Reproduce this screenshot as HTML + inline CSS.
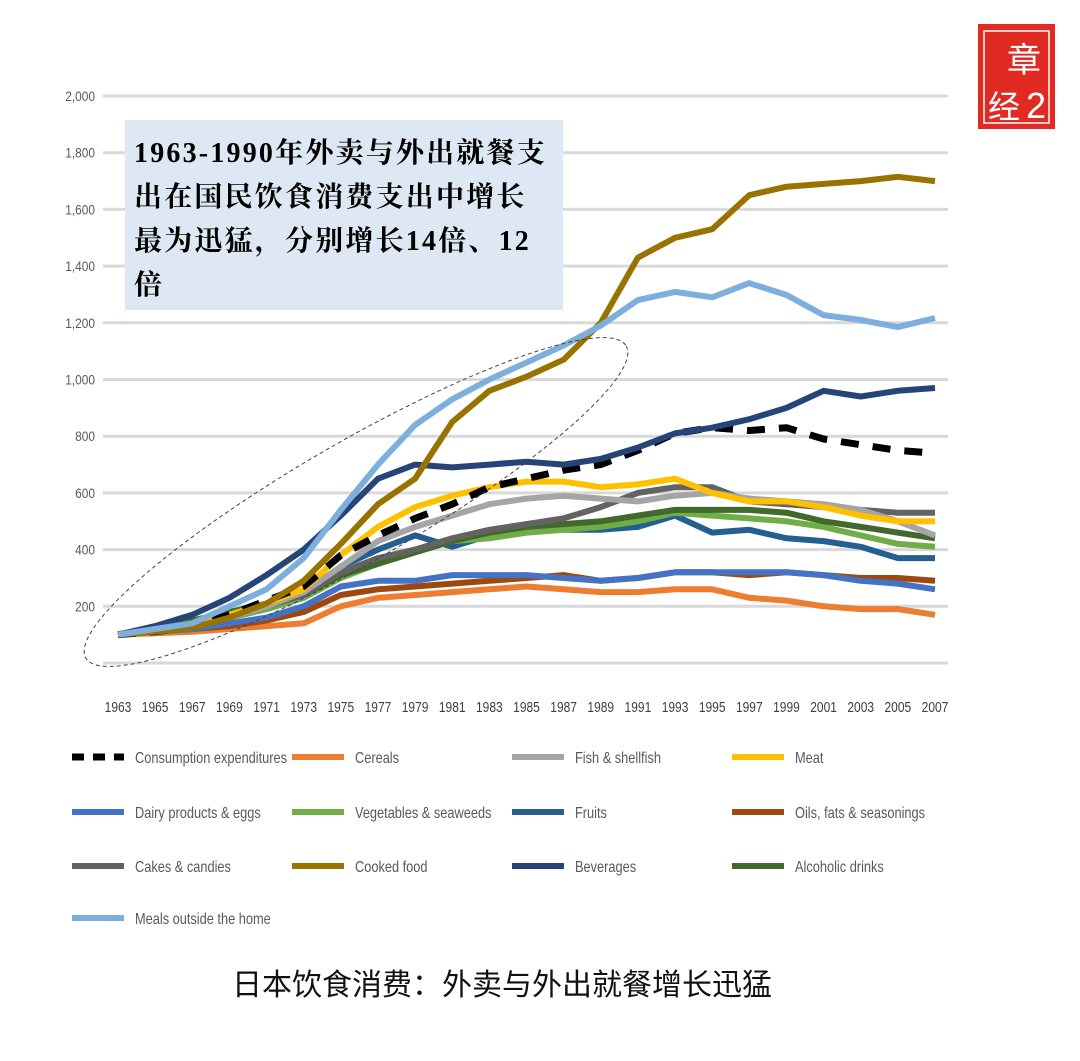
<!DOCTYPE html>
<html><head><meta charset="utf-8"><style>
body{margin:0;background:#fff;}
</style></head><body>
<svg id="c" width="1080" height="1056" viewBox="0 0 1080 1056" style="font-family:'Liberation Sans','Noto Sans CJK SC',sans-serif">
<g>
<rect x="978" y="24" width="77" height="105" fill="#e02a22"/>
<rect x="984" y="31" width="65" height="92" fill="none" stroke="#fff" stroke-width="1.5"/>
<text x="1024" y="72" font-size="34" fill="#fff" text-anchor="middle" style="font-family:'Noto Sans CJK SC',sans-serif">章</text>
<text x="1004" y="118" font-size="32" fill="#fff" text-anchor="middle" style="font-family:'Noto Sans CJK SC',sans-serif">经</text>
<text x="1036" y="118" font-size="36" fill="#fff" text-anchor="middle">2</text>
</g>
<g id="grid"></g><g id="series"></g><g id="axes"></g><g id="legend"></g>
<ellipse cx="356" cy="502" rx="312" ry="60" transform="rotate(-30 356 502)" fill="none" stroke="#444" stroke-width="1" stroke-dasharray="4 3"/>
<g>
<rect x="125" y="120" width="438" height="190" fill="#dde8f4"/>
<text style="font-family:'Liberation Serif','Noto Serif CJK SC',serif;font-weight:bold;font-size:28px;letter-spacing:2.2px" fill="#000">
<tspan x="134" y="162">1963-1990年外卖与外出就餐支</tspan>
<tspan x="134" y="206">出在国民饮食消费支出中增长</tspan>
<tspan x="134" y="250">最为迅猛，分别增长14倍、12</tspan>
<tspan x="134" y="294">倍</tspan></text>
</g>
<text x="502" y="995" font-size="30" text-anchor="middle" fill="#111" style="font-family:'Noto Sans CJK SC',sans-serif">日本饮食消费：外卖与外出就餐增长迅猛</text>
</svg>
<script>
const years=[1963,1965,1967,1969,1971,1973,1975,1977,1979,1981,1983,1985,1987,1989,1991,1993,1995,1997,1999,2001,2003,2005,2007];
const yTicks=[0,200,400,600,800,1000,1200,1400,1600,1800,2000];
const yTickLabels=["","200","400","600","800","1,000","1,200","1,400","1,600","1,800","2,000"];
const names=["Consumption expenditures","Cereals","Fish & shellfish","Meat","Dairy products & eggs","Vegetables & seaweeds","Fruits","Oils, fats & seasonings","Cakes & candies","Cooked food","Beverages","Alcoholic drinks","Meals outside the home"];
const colors=["#000","#ed7d31","#a5a5a5","#ffc000","#4472c4","#70ad47","#255e91","#9e480e","#636363","#997300","#264478","#43682b","#7cafdd"];
const consumption=[100,110,130,170,220,270,380,450,510,560,620,650,680,700,750,810,830,820,830,790,770,750,740];
const cereals=[100,105,110,120,130,140,200,230,240,250,260,270,260,250,250,260,260,230,220,200,190,190,170];
const fish=[100,110,130,160,200,250,340,430,480,520,560,580,590,580,570,590,600,580,570,560,540,500,450];
const meat=[100,110,130,170,210,260,380,480,550,590,620,640,640,620,630,650,600,570,570,550,520,500,500];
const dairy=[100,110,120,140,160,200,270,290,290,310,310,310,300,290,300,320,320,320,320,310,290,280,260];
const veg=[100,110,130,160,190,230,300,350,400,430,440,460,470,480,500,530,520,510,500,480,450,420,410];
const fruits=[100,110,130,160,190,230,340,400,450,410,450,480,470,470,480,520,460,470,440,430,410,370,370];
const oils=[100,110,120,130,150,180,240,260,270,280,290,300,310,290,300,320,320,310,320,310,300,300,290];
const cakes=[100,110,130,160,200,240,320,370,400,440,470,490,510,550,600,620,620,570,560,550,540,530,530];
const cooked=[100,110,125,160,210,290,420,560,650,850,960,1010,1070,1200,1430,1500,1530,1650,1680,1690,1700,1715,1700];
const beverages=[100,130,170,230,310,400,520,650,700,690,700,710,700,720,760,810,830,860,900,960,940,960,970];
const alcohol=[100,120,150,180,210,240,310,350,390,430,460,480,490,500,520,540,540,540,530,500,480,460,440];
const meals=[100,120,140,200,260,370,540,700,840,930,1000,1060,1120,1190,1280,1309,1290,1340,1298,1227,1210,1185,1217];
const data=[consumption,cereals,fish,meat,dairy,veg,fruits,oils,cakes,cooked,beverages,alcohol,meals];
const drawOrder=[1,7,4,6,5,11,8,2,3,0,10,9,12];
const NS="http://www.w3.org/2000/svg";
const X=y=>118+(y-1963)*(935-118)/44;
const Y=v=>663-v*0.2835;
function mk(t,a,p){const e=document.createElementNS(NS,t);for(const k in a)e.setAttribute(k,a[k]);p.appendChild(e);return e;}
const grid=document.getElementById('grid'),axes=document.getElementById('axes'),ser=document.getElementById('series'),leg=document.getElementById('legend');
yTicks.forEach((v,i)=>{
 const l=mk('line',{x1:103,x2:948,y1:Y(v),y2:Y(v),stroke:'#d9d9d9','stroke-width':3},grid);
 
 
 if(yTickLabels[i]){
 const t=mk('text',{x:95/0.85,y:Y(v)+5,'font-size':14,'text-anchor':'end',fill:'#595959',transform:'scale(0.85,1)'},axes);
 t.textContent=yTickLabels[i];
 
 }
});
years.forEach(y=>{
 const t=mk('text',{x:X(y)/0.8,y:712,'font-size':15,'text-anchor':'middle',fill:'#404040',transform:'scale(0.8,1)'},axes);
 t.textContent=y;
 
 
});
drawOrder.forEach(i=>{
 const d=data[i].map((v,j)=>(j?'L':'M')+X(years[j]).toFixed(1)+' '+Y(v).toFixed(1)).join(' ');
 const p=mk('path',{d:d,fill:'none',stroke:colors[i],'stroke-width':i===0?7:6,'stroke-linejoin':'round'},ser);
 if(i===0)p.setAttribute('stroke-dasharray','18 14');
 
 
});
const colX=[72,292,512,732],rowY=[757,812,866,918];
names.forEach((n,i)=>{
 const x=colX[i%4],y=rowY[Math.floor(i/4)];
 const g=mk('g',{},leg);
 
 
 const l=mk('line',{x1:x,x2:x+52,y1:y,y2:y,stroke:colors[i],'stroke-width':i===0?7:6},g);
 if(i===0)l.setAttribute('stroke-dasharray','12 9');
 const t=mk('text',{x:(x+63)/0.8,y:y+6,'font-size':16,fill:'#595959',transform:'scale(0.8,1)'},g);
 t.textContent=n;
});
</script>
</body></html>
